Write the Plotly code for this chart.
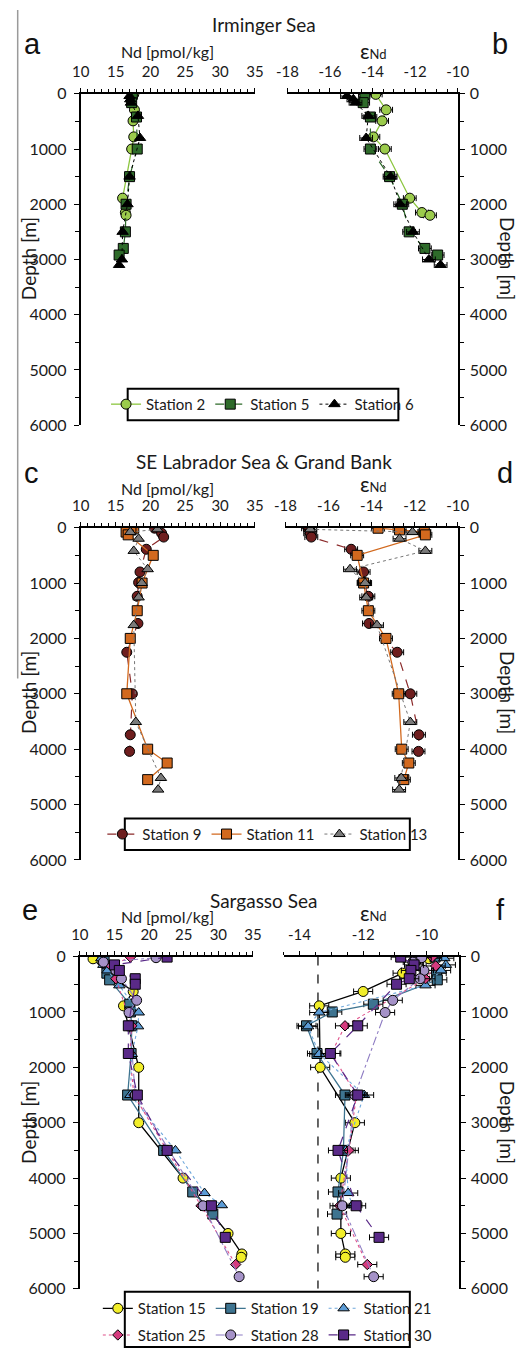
import plotly.graph_objects as go

# ---------------- data ----------------
# Irminger Sea
st2_depth = [10, 290, 490, 780, 1000, 1890, 2150, 2200]
st2_nd = [17.6, 17.7, 17.5, 17.6, 17.3, 16.0, 16.4, 16.5]
st2_eps = [-13.85, -13.36, -13.55, -13.96, -13.42, -12.25, -11.68, -11.30]

st5_depth = [10, 160, 420, 1000, 1500, 2000, 2500, 2800, 2920]
st5_nd = [17.4, 17.3, 18.0, 18.1, 17.0, 16.5, 16.4, 16.1, 15.5]
st5_eps = [-14.36, -14.44, -14.10, -14.10, -13.2, -12.6, -12.28, -11.54, -10.94]

st6_depth = [40, 100, 160, 400, 800, 1500, 2000, 2500, 3000, 3100]
st6_nd = [17.0, 17.1, 17.2, 18.2, 18.5, 17.0, 16.7, 16.0, 15.9, 15.5]
st6_eps = [-15.2, -14.9, -14.8, -14.2, -14.3, -13.15, -12.7, -12.1, -11.35, -10.8]

# SE Labrador Sea & Grand Bank
st9_depth = [10, 100, 170, 390, 800, 990, 1240, 1730, 2250, 3000, 3740, 4040]
st9_nd = [20.6, 21.6, 21.9, 19.4, 18.5, 18.3, 18.1, 18.2, 16.6, 17.4, 17.1, 17.0]
st9_eps = [-16.95, -16.85, -16.8, -14.95, -14.37, -14.35, -14.15, -14.12, -12.81, -12.2, -11.8, -11.82]

st11_depth = [10, 40, 80, 130, 500, 1000, 1500, 2000, 3000, 4000, 4250, 4550]
st11_nd = [17.6, 17.2, 16.5, 16.8, 20.4, 18.8, 18.1, 17.1, 16.6, 19.6, 22.4, 19.6]
st11_eps = [-13.7, -12.7, -11.55, -11.5, -14.67, -14.37, -14.15, -13.33, -12.74, -12.6, -12.27, -12.5]

st13_depth = [30, 80, 200, 420, 750, 1000, 1260, 1760, 3510, 4520, 4730]
st13_nd = [21.0, 17.1, 18.3, 17.6, 19.6, 18.75, 18.3, 17.6, 17.9, 21.5, 21.1]
st13_eps = [-16.85, -12.1, -12.7, -11.5, -15.0, -14.3, -14.25, -13.75, -12.2, -12.62, -12.72]

# Sargasso Sea
st15_depth = [40, 300, 630, 890, 2000, 3000, 4000, 5000, 5370, 5430]
st15_nd = [11.9, 14.0, 17.7, 16.3, 18.5, 18.5, 24.9, 31.4, 33.4, 33.3]
st15_eps = [-9.93, -10.76, -12.0, -13.38, -13.35, -12.26, -12.70, -12.70, -12.56, -12.56]

st19_depth = [10, 300, 420, 860, 1000, 1250, 1750, 2500, 3500, 4250, 4650]
st19_nd = [13.5, 13.9, 14.3, 17.2, 17.3, 17.5, 17.4, 16.9, 22.1, 26.3, 29.2]
st19_eps = [-9.74, -9.69, -9.67, -11.68, -12.97, -13.78, -13.45, -12.57, -12.62, -12.79, -12.82]

st21_depth = [30, 150, 250, 520, 1010, 1260, 1760, 2500, 3500, 4270, 4490]
st21_nd = [13.1, 13.4, 14.0, 15.7, 18.5, 18.4, 17.5, 17.3, 23.8, 28.0, 30.5]
st21_eps = [-9.45, -9.40, -9.55, -10.04, -13.38, -13.73, -13.38, -11.97, -12.55, -12.47, -12.34]

st25_depth = [10, 170, 400, 1250, 1750, 2500, 3500, 4500, 5560]
st25_nd = [17.3, 14.5, 15.2, 17.5, 17.2, 17.8, 22.6, 27.5, 32.5]
st25_eps = [-9.83, -9.72, -10.04, -12.57, -13.0, -12.21, -12.45, -12.74, -11.87]

st28_depth = [20, 100, 250, 400, 790, 1010, 2500, 4500, 5780]
st28_nd = [21.0, 13.4, 15.2, 16.0, 18.2, 17.1, 18.0, 27.8, 33.0]
st28_eps = [-10.16, -10.44, -10.09, -10.21, -11.07, -11.31, -12.26, -12.65, -11.67]

st30_depth = [10, 150, 250, 400, 500, 1250, 1750, 2500, 3500, 4500, 5070]
st30_nd = [22.6, 15.0, 15.7, 18.0, 18.0, 17.0, 17.0, 18.3, 22.6, 29.0, 31.0]
st30_eps = [-10.82, -10.40, -10.50, -10.55, -10.95, -12.17, -13.03, -12.17, -12.79, -12.22, -11.50]

eps_err = 0.3          # 2 sigma external reproducibility (approx.)
sargasso_ref_eps = -13.42   # dashed reference line in panel f

nd_ticks = [10, 15, 20, 25, 30, 35]
nd_ticktext = ['10', '15', '20', '25', '30', '35']
eps_ticks_bd = [-18, -16, -14, -12, -10]
eps_ticktext_bd = ['-18', '-16', '-14', '-12', '-10']
eps_ticks_f = [-14, -12, -10]
eps_ticktext_f = ['-14', '-12', '-10']
depth_ticks = [0, 1000, 2000, 3000, 4000, 5000, 6000]
depth_ticktext = ['0', '1000', '2000', '3000', '4000', '5000', '6000']

titles = ['Irminger Sea', 'SE Labrador Sea & Grand Bank', 'Sargasso Sea']
letters = ['a', 'b', 'c', 'd', 'e', 'f']

# ---------------- layout helpers ----------------
W, H = 528, 1358
FONT = 'Lato'
TXT = '#1a1a1a'


def fx(px):
    return px / W


def fy(py):
    return 1 - py / H


# plot-area pixel boxes (left, right, top, bottom)
boxes = {
    1: (73, 255, 85, 421), 2: (289, 467, 85, 421),
    3: (73, 255, 525, 862), 4: (287, 467, 525, 862),
    5: (72, 253, 960, 1297), 6: (285, 468, 960, 1297),
}

fig = go.Figure()

stations = [
    # name, depth, nd, eps, marker color, symbol, size, line color, dash, width, panel pair, legend
    ('Station 2', st2_depth, st2_nd, st2_eps, '#9BCB4C', 'circle', 10, '#8CC63F', 'solid', 1.3, (1, 2), 'legend'),
    ('Station 5', st5_depth, st5_nd, st5_eps, '#2E6B2A', 'square', 10, '#2E6B2A', 'dash', 1.2, (1, 2), 'legend'),
    ('Station 6', st6_depth, st6_nd, st6_eps, '#000000', 'triangle-up', 10, '#000000', 'dot', 1.0, (1, 2), 'legend'),
    ('Station 9', st9_depth, st9_nd, st9_eps, '#6E1E1E', 'circle', 10, '#8B2A2A', 'dash', 1.2, (3, 4), 'legend2'),
    ('Station 11', st11_depth, st11_nd, st11_eps, '#D2691E', 'square', 10, '#D2691E', 'solid', 1.3, (3, 4), 'legend2'),
    ('Station 13', st13_depth, st13_nd, st13_eps, '#7A7A7A', 'triangle-up', 10, '#777777', 'dot', 1.0, (3, 4), 'legend2'),
    ('Station 15', st15_depth, st15_nd, st15_eps, '#F2EE2A', 'circle', 10, '#000000', 'solid', 1.3, (5, 6), 'legend3'),
    ('Station 19', st19_depth, st19_nd, st19_eps, '#3E7490', 'square', 10, '#3E7490', 'solid', 1.3, (5, 6), 'legend3'),
    ('Station 21', st21_depth, st21_nd, st21_eps, '#5B9BD5', 'triangle-up', 10, '#6FA8DC', 'dot', 1.1, (5, 6), 'legend3'),
    ('Station 25', st25_depth, st25_nd, st25_eps, '#D63B7E', 'diamond', 8, '#E0508A', 'dot', 1.1, (5, 6), 'legend4'),
    ('Station 28', st28_depth, st28_nd, st28_eps, '#A592C8', 'circle', 10, '#8E7CC3', 'dashdot', 1.1, (5, 6), 'legend4'),
    ('Station 30', st30_depth, st30_nd, st30_eps, '#5A2A88', 'square', 10, '#5A2A88', 'dash', 1.2, (5, 6), 'legend4'),
]

for name, d, nd, eps, mc, sym, ms, lc, dash, lw, (pn, pe), leg in stations:
    marker = dict(color=mc, symbol=sym, size=ms, line=dict(color='black', width=1))
    line = dict(color=lc, dash=dash, width=lw)
    fig.add_trace(go.Scatter(
        x=nd, y=d, mode='lines+markers', name=name, marker=marker, line=line,
        xaxis='x' if pn == 1 else f'x{pn}', yaxis='y' if pn == 1 else f'y{pn}',
        legend=leg, showlegend=True))
    fig.add_trace(go.Scatter(
        x=eps, y=d, mode='lines+markers', name=name, marker=marker, line=line,
        error_x=dict(type='constant', value=eps_err, thickness=1, width=3, color='black'),
        xaxis=f'x{pe}', yaxis=f'y{pe}', legend=leg, showlegend=False))

xtickfont = dict(family=FONT, size=15, color=TXT)
ytickfont = dict(family=FONT, size=16, color=TXT)
layout = dict(
    width=W, height=H, margin=dict(l=0, r=0, t=0, b=0),
    paper_bgcolor='white', plot_bgcolor='white',
    font=dict(family=FONT, color=TXT),
)

for i in range(1, 7):
    l, r, t, b = boxes[i]
    right = (i % 2 == 0)
    xa = dict(domain=[fx(l), fx(r)], anchor='y' if i == 1 else f'y{i}', side='top',
              showline=True, linecolor='black', linewidth=2, mirror=False,
              ticks='outside', ticklen=4, tickwidth=1, tickcolor='black',
              showgrid=False, zeroline=False, tickfont=xtickfont, ticklabelstandoff=5)
    if not right:
        xa.update(range=[10, 35], tickvals=nd_ticks, ticktext=nd_ticktext,
                  minor=dict(ticks='outside', ticklen=3, dtick=1, tick0=10, tickcolor='black', showgrid=False))
    elif i == 6:
        xa.update(range=[-14.5, -9], tickvals=eps_ticks_f, ticktext=eps_ticktext_f,
                  minor=dict(ticks='outside', ticklen=3, dtick=0.5, tick0=-15, tickcolor='black', showgrid=False))
    else:
        xa.update(range=[-18, -10], tickvals=eps_ticks_bd, ticktext=eps_ticktext_bd,
                  minor=dict(ticks='outside', ticklen=3, dtick=0.5, tick0=-18, tickcolor='black', showgrid=False))
    ya = dict(domain=[fy(b), fy(t)], anchor='x' if i == 1 else f'x{i}', side='right' if right else 'left',
              range=[6000, 0], tickvals=depth_ticks, ticktext=depth_ticktext,
              showline=True, linecolor='black', linewidth=2,
              ticks='outside', ticklen=5, tickwidth=1, tickcolor='black',
              minor=dict(ticks='outside', ticklen=4, dtick=500, tick0=0, tickcolor='black', showgrid=False),
              showgrid=False, zeroline=False, tickfont=ytickfont,
              ticklabelstandoff=2 if right else 4)
    layout['xaxis' if i == 1 else f'xaxis{i}'] = xa
    layout['yaxis' if i == 1 else f'yaxis{i}'] = ya

legfont = dict(family=FONT, size=15, color=TXT)
leg_common = dict(orientation='h', xanchor='center', yanchor='middle', bgcolor='rgba(0,0,0,0)',
                  borderwidth=0, font=legfont, itemwidth=30, tracegroupgap=0, traceorder='normal')
layout['legend'] = dict(leg_common, x=fx(263), y=fy(400))
layout['legend2'] = dict(leg_common, x=fx(268), y=fy(836))
layout['legend3'] = dict(leg_common, x=fx(268), y=fy(1317))
layout['legend4'] = dict(leg_common, x=fx(268), y=fy(1344))

shapes = [
    # legend frames
    dict(type='rect', xref='paper', yref='paper', x0=fx(122), x1=fx(405), y0=fy(416), y1=fy(384),
         line=dict(color='black', width=2)),
    dict(type='rect', xref='paper', yref='paper', x0=fx(119), x1=fx(417), y0=fy(852), y1=fy(820),
         line=dict(color='black', width=2)),
    dict(type='rect', xref='paper', yref='paper', x0=fx(119), x1=fx(417), y0=fy(1356), y1=fy(1300),
         line=dict(color='black', width=2)),
    # scan edge line at the left
    dict(type='line', xref='paper', yref='paper', x0=fx(7), x1=fx(7), y0=fy(0), y1=fy(678),
         line=dict(color='#9a9a9a', width=1.5)),
    # reference dashed line panel f
    dict(type='line', xref='x6', yref='y6', x0=sargasso_ref_eps, x1=sargasso_ref_eps, y0=0, y1=6000,
         line=dict(color='#555555', width=1.8, dash='dash'), layer='below'),
]
layout['shapes'] = shapes

ann = []
title_y = [15, 458, 903]
for t, yy in zip(titles, title_y):
    ann.append(dict(text=t, x=fx(264), y=fy(yy), xref='paper', yref='paper', showarrow=False,
                    xanchor='center', yanchor='middle', font=dict(family=FONT, size=19, color=TXT)))
letter_pos = [(22, 34), (511, 34), (21, 470), (517, 470), (20, 913), (512, 913)]
for lt, (lx, ly) in zip(letters, letter_pos):
    ann.append(dict(text=lt, x=fx(lx), y=fy(ly), xref='paper', yref='paper', showarrow=False,
                    xanchor='center', yanchor='middle', font=dict(family='Liberation Sans', size=29, color='#111')))
for ty in [42, 485, 919]:
    ann.append(dict(text='Nd [pmol/kg]', x=fx(164), y=fy(ty), xref='paper', yref='paper', showarrow=False,
                    xanchor='center', yanchor='middle', font=dict(family=FONT, size=16, color=TXT)))
# bottom edge of the εNd label, just above the tick labels
for ty in [56, 495, 930]:
    ann.append(dict(text="<span style='font-size:21px'>ε</span><span style='font-size:13px'>Nd</span>",
                    x=fx(379), y=fy(ty), xref='paper', yref='paper', showarrow=False,
                    xanchor='center', yanchor='bottom', font=dict(family=FONT, size=13, color=TXT)))
for cy in [252, 692, 1128]:
    ann.append(dict(text='Depth [m]', x=fx(18.5), y=fy(cy), xref='paper', yref='paper', showarrow=False,
                    textangle=-90, xanchor='center', yanchor='middle',
                    font=dict(family=FONT, size=19, color=TXT)))
    ann.append(dict(text='Depth [m]', x=fx(519), y=fy(cy), xref='paper', yref='paper', showarrow=False,
                    textangle=90, xanchor='center', yanchor='middle',
                    font=dict(family=FONT, size=19, color=TXT)))
layout['annotations'] = ann

fig.update_layout(**layout)
fig.write_html('out.html',
               post_script="document.body.style.margin='0';document.body.style.padding='0';"
                           "document.documentElement.style.margin='0';")
